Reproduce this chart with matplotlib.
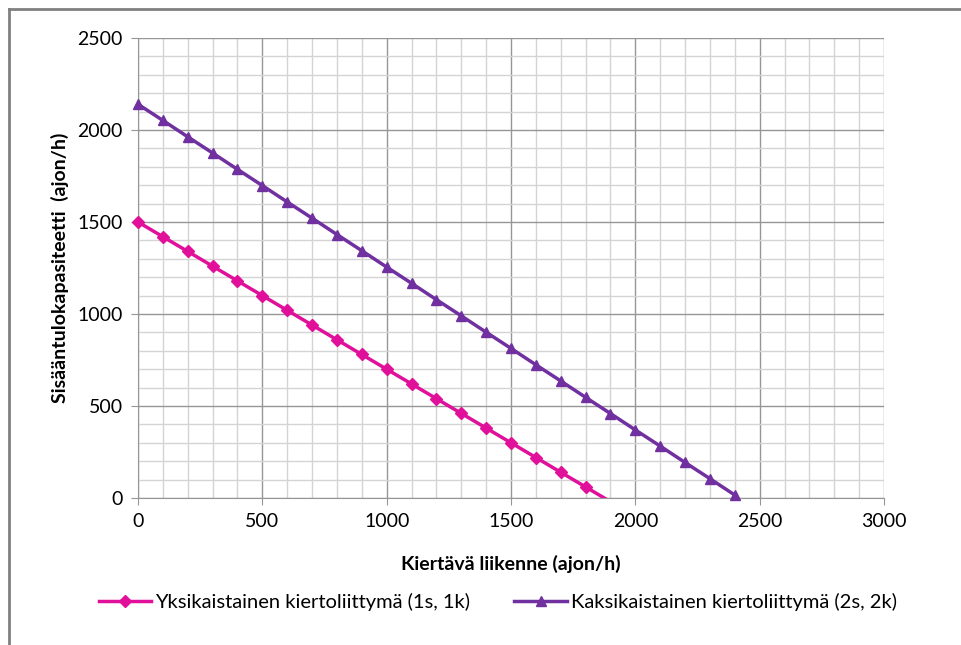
import matplotlib.pyplot as plt
import numpy as np
from matplotlib.lines import Line2D

# kiertävä liikenne (ajon/h)
x_1k = [0, 100, 200, 300, 400, 500, 600, 700, 800, 900, 1000, 1100, 1200,
        1300, 1400, 1500, 1600, 1700, 1800, 1900]
y_1k = [1500, 1420, 1340, 1260, 1180, 1100, 1020, 940, 860, 780, 700, 620,
        540, 460, 380, 300, 220, 140, 60, -20]

x_2k = [0, 100, 200, 300, 400, 500, 600, 700, 800, 900, 1000, 1100, 1200,
        1300, 1400, 1500, 1600, 1700, 1800, 1900, 2000, 2100, 2200, 2300, 2400]
y_2k = [2140, 2052, 1963, 1875, 1786, 1698, 1609, 1521, 1432, 1344, 1255,
        1167, 1078, 990, 901, 813, 724, 636, 547, 459, 370, 282, 193, 105, 16]

lbl_1k = "Yksikaistainen kiertoliittymä (1s, 1k)"
lbl_2k = "Kaksikaistainen kiertoliittymä (2s, 2k)"

plt.rcParams['font.family'] = ['Lato', 'DejaVu Sans']

fig = plt.figure(figsize=(9.61, 6.45), dpi=100)
ax = fig.add_axes([0.1436, 0.2279, 0.9199 - 0.1436, 0.9411 - 0.2279])

pink = '#e0109a'
purple = '#7030a0'

# viivat (leikataan akselille), merkit erikseen ettei reunapisteitä leikata
ax.plot(x_1k, y_1k, color=pink, lw=2.5, zorder=3)
ax.plot(x_2k, y_2k, color=purple, lw=2.5, zorder=3)
vis_1k = [i for i in range(len(y_1k)) if y_1k[i] >= 0]
ax.plot(x_1k, y_1k, ls='none', color=pink, marker='D', ms=6,
        markevery=vis_1k, clip_on=False, zorder=4)
ax.plot(x_2k, y_2k, ls='none', color=purple, marker='^', ms=7,
        clip_on=False, zorder=4)

ax.set_xlim(0, 3000)
ax.set_ylim(0, 2500)
ax.set_xticks(np.arange(0, 3001, 500))
ax.set_yticks(np.arange(0, 2501, 500))
ax.set_xticks(np.arange(0, 3001, 100), minor=True)
ax.set_yticks(np.arange(0, 2501, 100), minor=True)
ax.grid(which='minor', color='#d4d4d4', lw=1)
ax.grid(which='major', color='#969696', lw=1)
ax.set_axisbelow(True)
ax.tick_params(which='minor', length=0)
ax.tick_params(which='major', length=5, color='#969696', labelsize=14, pad=6)
for s in ['top', 'right']:
    ax.spines[s].set_visible(False)
for s in ['left', 'bottom']:
    ax.spines[s].set_color('#969696')

ax.set_xlabel('Kiertävä liikenne (ajon/h)', fontsize=14, fontweight='bold', labelpad=18)
ax.set_ylabel('Sisääntulokapasiteetti  (ajon/h)', fontsize=14, fontweight='bold', labelpad=6)

handles = [Line2D([], [], color=pink, lw=2.5, marker='D', ms=6),
           Line2D([], [], color=purple, lw=2.5, marker='^', ms=7)]
fig.legend(handles, [lbl_1k, lbl_2k], loc='center', bbox_to_anchor=(0.518, 0.067),
           ncol=2, frameon=False, fontsize=14.5, handlelength=2.6, handletextpad=0.2,
           columnspacing=2.2)

# reunaviivat
fig.add_artist(Line2D([9 / 961, 1], [1 - 9 / 645, 1 - 9 / 645], color='#808080', lw=2))
fig.add_artist(Line2D([9 / 961, 9 / 961], [0, 1 - 9 / 645], color='#808080', lw=2))

fig.savefig('out.png', dpi=100)
